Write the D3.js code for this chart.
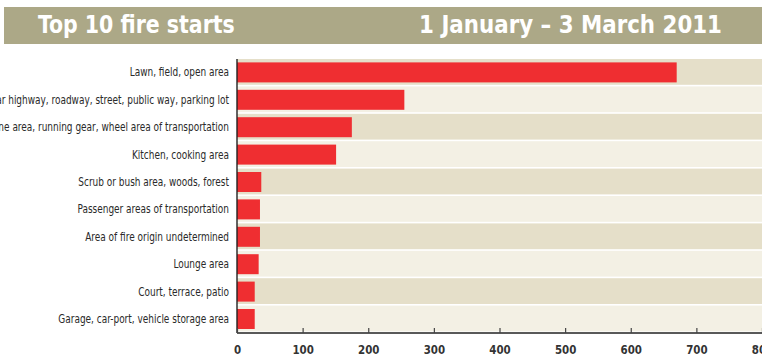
<!DOCTYPE html>
<html>
<head>
<meta charset="utf-8">
<script src="https://cdn.jsdelivr.net/npm/d3@7"></script>
<style>
  html, body { margin: 0; padding: 0; background: #ffffff; }
  svg { display: block; }
  .narrow { font-family: "Liberation Sans Narrow", "DejaVu Sans Condensed", "Roboto Condensed", sans-serif; }
</style>
</head>
<body>
<svg id="chart" width="762" height="358"></svg>
<script>
const titleLeft = "Top 10 fire starts";
const titleRight = "1 January \u2013 3 March 2011";
const categories = [
  "Lawn, field, open area",
  "Vehicular highway, roadway, street, public way, parking lot",
  "Engine area, running gear, wheel area of transportation",
  "Kitchen, cooking area",
  "Scrub or bush area, woods, forest",
  "Passenger areas of transportation",
  "Area of fire origin undetermined",
  "Lounge area",
  "Court, terrace, patio",
  "Garage, car-port, vehicle storage area"
];
const values = [670, 255, 175, 151, 37, 35, 35, 33, 27, 27];
const tickValues = [0, 100, 200, 300, 400, 500, 600, 700, 800];

const svg = d3.select("#chart");
const W = 762, H = 358;
const x0 = 237, x1 = 762, yTop = 59, yBot = 333;

// Header band
svg.append("rect").attr("x", 4).attr("y", 7).attr("width", W - 4).attr("height", 37)
  .attr("fill", "#aca887");
svg.append("g").attr("transform", "translate(38,33) scale(0.95,1.05)")
  .append("text").attr("class", "narrow").attr("x", 0).attr("y", 0)
  .attr("fill", "#ffffff").attr("font-size", 24).attr("font-weight", "bold")
  .text(titleLeft);
svg.append("g").attr("transform", "translate(722,33) scale(0.99,1.05)")
  .append("text").attr("class", "narrow").attr("x", 0).attr("y", 0)
  .attr("text-anchor", "end")
  .attr("fill", "#ffffff").attr("font-size", 24).attr("font-weight", "bold")
  .text(titleRight);

const x = d3.scaleLinear().domain([0, 800]).range([x0, x1]);
const y = d3.scaleBand().domain(categories).range([yTop, yBot]).paddingInner(0).paddingOuter(0);
const bw = y.bandwidth();

// Row backgrounds
svg.append("g").selectAll("rect").data(categories).join("rect")
  .attr("x", x0).attr("y", d => y(d))
  .attr("width", x1 - x0).attr("height", bw - 1.6)
  .attr("fill", (d, i) => i % 2 === 0 ? "#e5dfc9" : "#f3f0e4");

// Bars
const barH = 20;
svg.append("g").selectAll("rect").data(values).join("rect")
  .attr("x", x(0))
  .attr("y", (d, i) => y(categories[i]) + (bw - barH) / 2 - 0.3)
  .attr("width", d => x(d) - x(0))
  .attr("height", barH)
  .attr("fill", "#ef2e31");

// Category labels (horizontally condensed)
svg.append("g").attr("transform", "translate(229,0) scale(0.83,1)")
  .selectAll("text").data(categories).join("text")
  .attr("class", "narrow")
  .attr("x", 0)
  .attr("y", d => y(d) + bw / 2 - 0.5)
  .attr("dy", "0.35em")
  .attr("text-anchor", "end")
  .attr("font-size", 12)
  .attr("fill", "#2a2a2a")
  .text(d => d);

// Left axis line
svg.append("line").attr("x1", x0).attr("x2", x0).attr("y1", yTop).attr("y2", yBot)
  .attr("stroke", "#222").attr("stroke-width", 1.4);

// Bottom axis
const axis = d3.axisBottom(x).tickValues(tickValues).tickSize(-5).tickPadding(10)
  .tickFormat(d3.format("d"));
const gAxis = svg.append("g").attr("transform", `translate(0,${yBot})`).call(axis);
gAxis.select(".domain").attr("stroke", "#222").attr("stroke-width", 1.4)
  .attr("d", `M${x0},0H${x1}`);
gAxis.selectAll(".tick line").attr("stroke", "#444").attr("stroke-width", 1.2);
gAxis.selectAll(".tick text")
  .attr("class", "narrow")
  .attr("font-family", "'Liberation Sans Narrow', 'DejaVu Sans Condensed', sans-serif")
  .attr("font-size", 13).attr("font-weight", "bold").attr("fill", "#333")
  .attr("transform", "scale(0.88,1)")
  .attr("y", 11.5);
</script>
</body>
</html>
